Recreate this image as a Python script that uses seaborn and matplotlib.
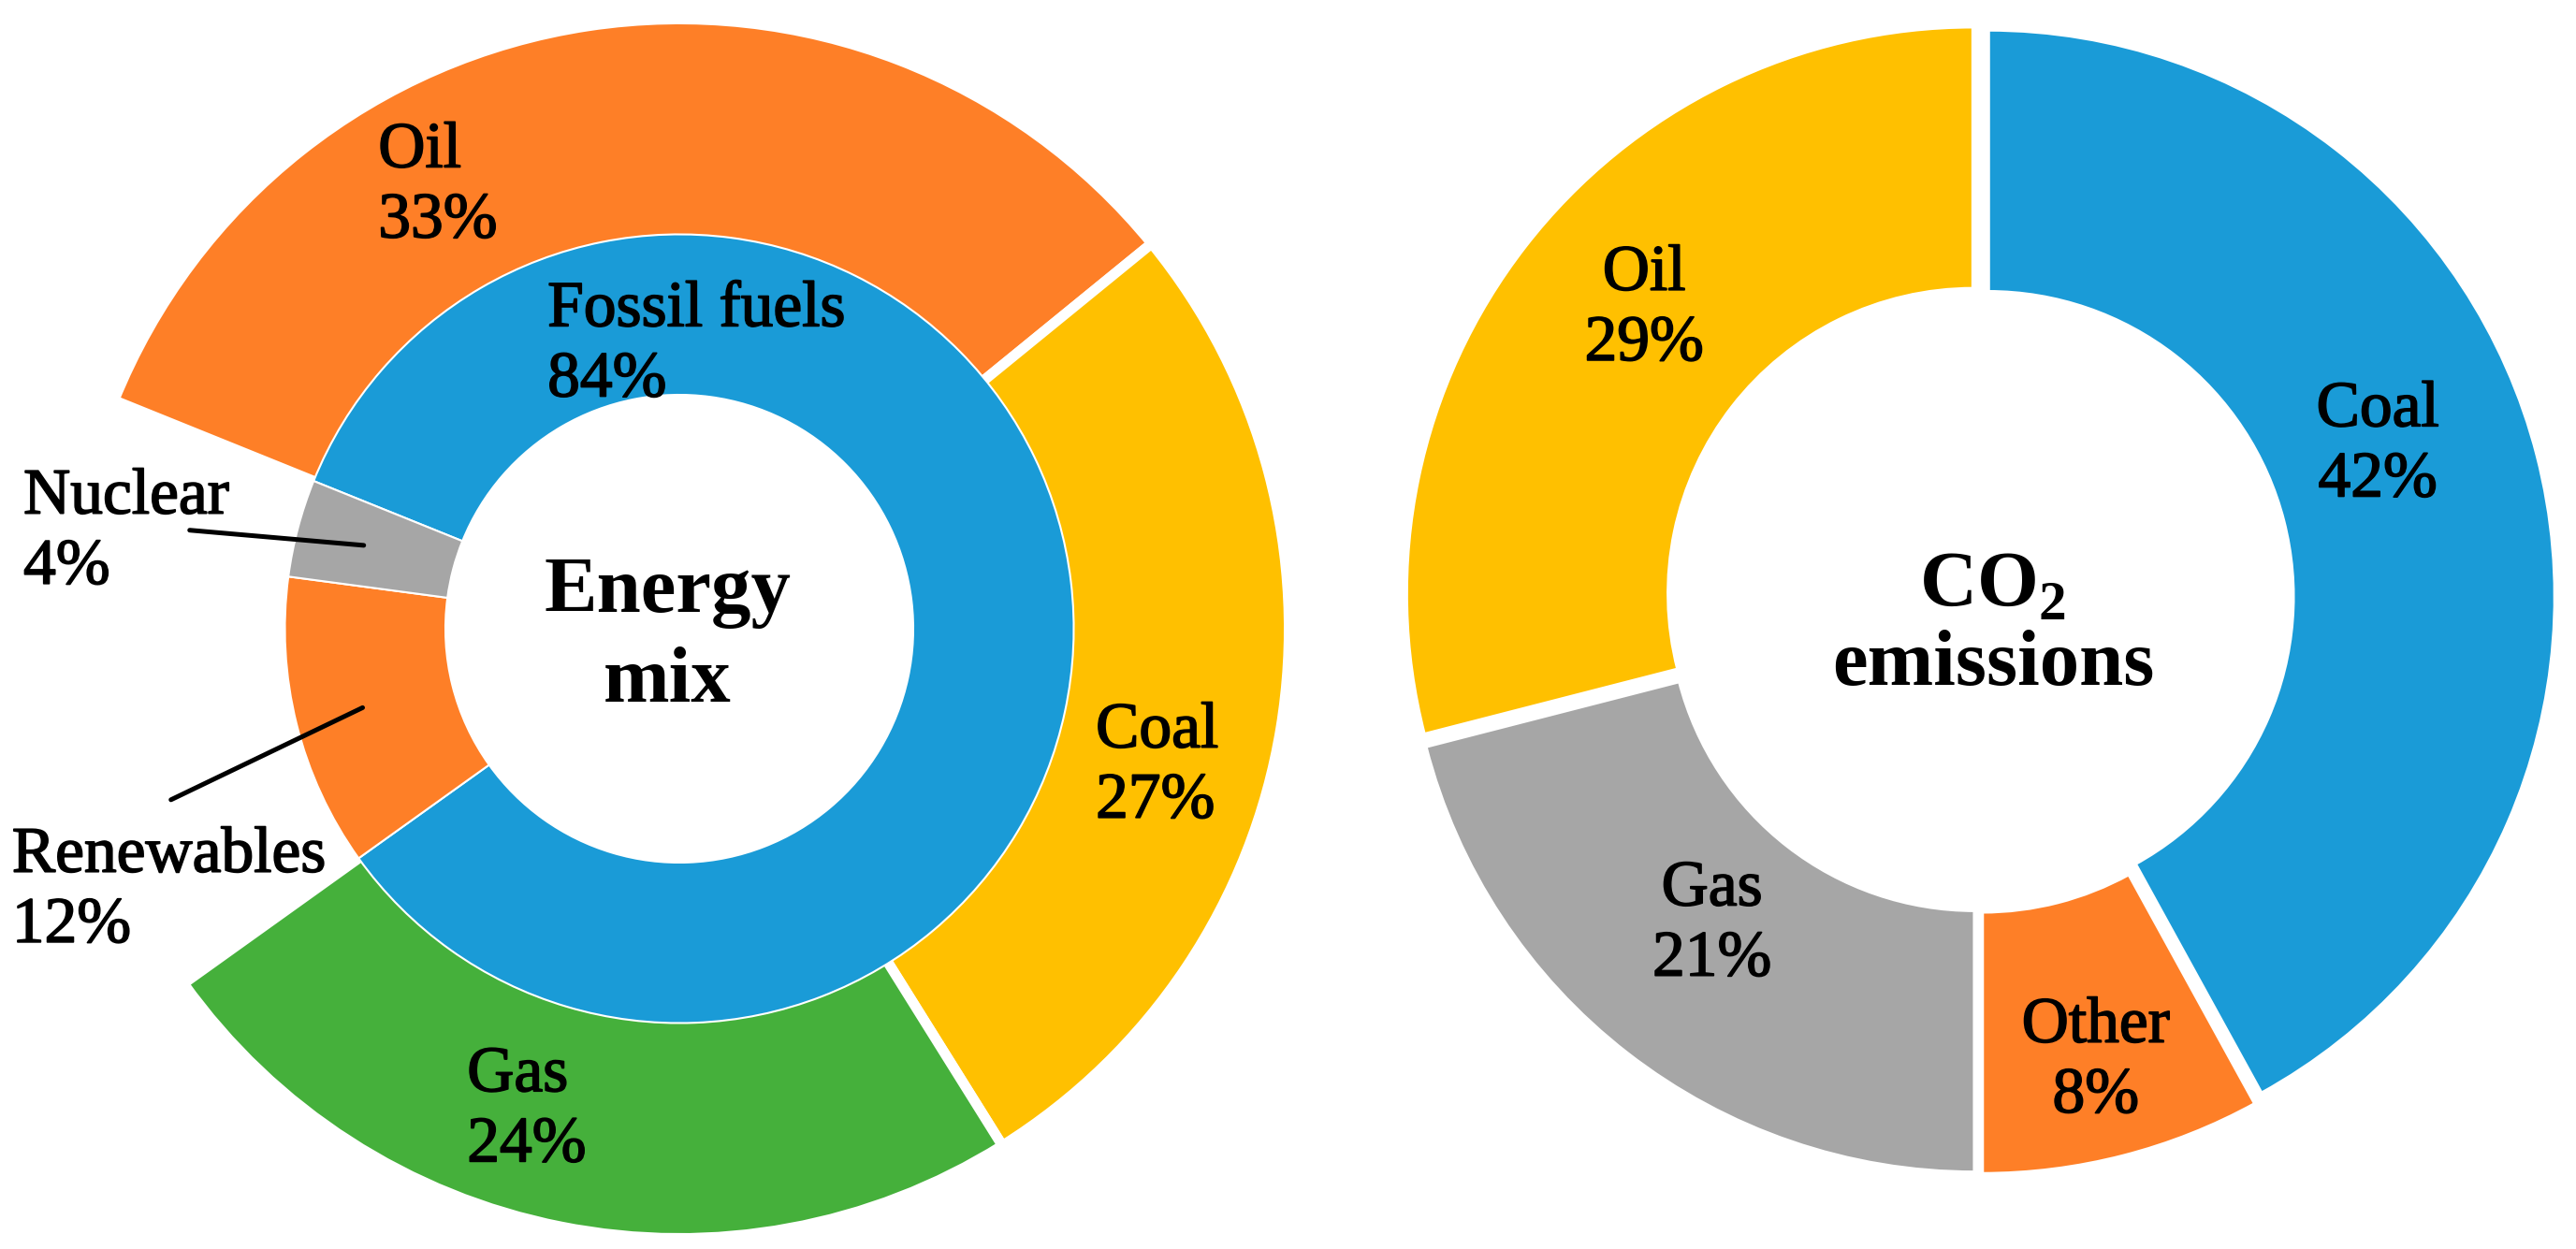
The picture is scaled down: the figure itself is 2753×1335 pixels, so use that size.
import numpy as np
import matplotlib.pyplot as plt
import matplotlib.patheffects as pe
import seaborn as sns

# Energy mix: inner ring, and the fossil part split up in the outer ring
mix_labels = ["Fossil fuels", "Renewables", "Nuclear"]
mix_share = [84, 12, 4]
fossil_labels = ["Oil", "Coal", "Gas"]
fossil_share = [33, 27, 24]

# CO2 emissions by source
co2_labels = ["Coal", "Other", "Gas", "Oil"]
co2_share = [42, 8, 21, 29]

BLUE, ORANGE, YELLOW, GREEN, GREY = "#1a9bd7", "#fe7f27", "#ffc000", "#45b03b", "#a6a6a6"
mix_colors = [BLUE, ORANGE, GREY]
fossil_colors = [ORANGE, YELLOW, GREEN]
co2_colors = [BLUE, ORANGE, GREY, YELLOW]

# label layout (data units, top of text block)
mix_pos = {"Fossil fuels": (-0.218, 0.576), "Renewables": (-1.104, -0.327), "Nuclear": (-1.085, 0.266)}
fossil_pos = {"Oil": (-0.498, 0.839), "Coal": (0.689, -0.121), "Gas": (-0.351, -0.690)}
leader_start = {"Nuclear": (-0.810, 0.163), "Renewables": (-0.841, -0.283)}
co2_pos = {"Coal": (0.704, 0.386), "Other": (0.205, -0.704), "Gas": (-0.474, -0.462), "Oil": (-0.594, 0.627)}

sns.set_style("white")
plt.rcParams["font.family"] = ["Liberation Serif", "DejaVu Serif"]
plt.rcParams["text.color"] = "black"
plt.rcParams["mathtext.fontset"] = "custom"
plt.rcParams["mathtext.rm"] = "Liberation Serif"
plt.rcParams["mathtext.bf"] = "Liberation Serif:bold"

W, H = 2753, 1335
SPLIT = 1420
fig = plt.figure(figsize=(W / 100, H / 100), dpi=100)
fig.patch.set_facecolor("white")


def place(ax, left, right, cx, cy, unit):
    # 1 data unit == `unit` pixels, donut centre at pixel (cx, cy) from top-left
    ax.set_xlim((left - cx) / unit, (right - cx) / unit)
    ax.set_ylim((cy - H) / unit, cy / unit)
    ax.set_aspect("auto")
    ax.axis("off")


LABEL_FS = 50
CENTER_FS = 61
# labels are a touch heavier than plain regular in the original
heavy = [pe.withStroke(linewidth=1.2, foreground="black")]

# ---- left: energy mix ----
ax1 = fig.add_axes([0, 0, SPLIT / W, 1])
out_w, _ = ax1.pie(
    fossil_share + [100 - sum(fossil_share)],
    colors=fossil_colors + ["none"],
    startangle=158,
    counterclock=False,
    radius=1.0085,
    wedgeprops=dict(width=0.376, edgecolor="white", linewidth=7.9),
)
out_w[-1].set_visible(False)
in_w, _ = ax1.pie(
    mix_share,
    colors=mix_colors,
    startangle=158,
    counterclock=False,
    radius=0.6525,
    wedgeprops=dict(width=0.2655, edgecolor="white", linewidth=1.5),
)
place(ax1, 0, SPLIT, 726, 672, 646)

for name, share in zip(fossil_labels, fossil_share):
    x, y = fossil_pos[name]
    ax1.text(x, y, f"{name}\n{share}%", ha="left", va="top",
             fontsize=LABEL_FS, linespacing=1.24, path_effects=heavy)

for w, name, share in zip(in_w, mix_labels, mix_share):
    x, y = mix_pos[name]
    ax1.text(x, y, f"{name}\n{share}%", ha="left", va="top",
             fontsize=LABEL_FS, linespacing=1.24, path_effects=heavy)
    if name in leader_start:
        th = np.deg2rad((w.theta1 + w.theta2) / 2)
        ax1.annotate("", xy=(0.54 * np.cos(th), 0.54 * np.sin(th)),
                     xytext=leader_start[name],
                     arrowprops=dict(arrowstyle="-", color="black", lw=3.6,
                                     shrinkA=0, shrinkB=0))

ax1.text(-0.02, 0.119, "Energy\nmix", ha="center", va="top",
         fontsize=CENTER_FS, fontweight="bold", linespacing=1.32)

# ---- right: CO2 emissions ----
ax2 = fig.add_axes([SPLIT / W, 0, (W - SPLIT) / W, 1])
ax2.pie(
    co2_share,
    colors=co2_colors,
    startangle=90,
    counterclock=False,
    radius=1.0033,
    explode=[0.015] * len(co2_share),
    wedgeprops=dict(width=0.464, edgecolor="white", linewidth=2.9),
)
place(ax2, SPLIT, W, 2116, 640, 604)

for name, share in zip(co2_labels, co2_share):
    x, y = co2_pos[name]
    ax2.text(x, y, f"{name}\n{share}%", ha="center", va="top",
             fontsize=LABEL_FS, linespacing=1.24, path_effects=heavy)

ax2.text(0.023, 0.083, "CO$_\\mathbf{2}$\nemissions", ha="center", va="top",
         fontsize=CENTER_FS, fontweight="bold", linespacing=1.1)

fig.savefig("out.png", dpi=100, facecolor="white")
